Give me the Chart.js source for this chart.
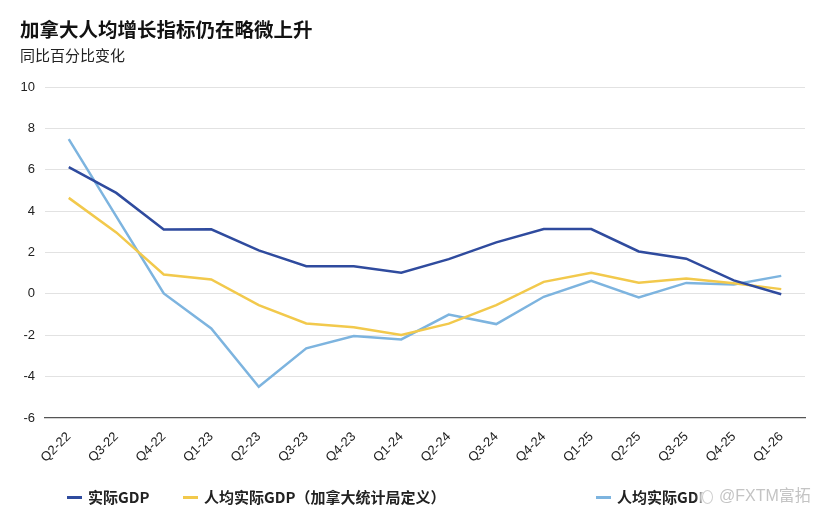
<!DOCTYPE html>
<html><head><meta charset="utf-8">
<script src="https://cdn.jsdelivr.net/npm/chart.js@4"></script>
<style>
html,body{margin:0;padding:0;background:#fff;}
#wrap{position:relative;width:832px;height:528px;overflow:hidden;font-family:"Noto Sans CJK SC","Liberation Sans",Arial,sans-serif;}
#c{position:absolute;left:0;top:0;}
.t{position:absolute;left:20px;top:16px;font-size:19.5px;font-weight:bold;color:#111;line-height:26px;}
.st{position:absolute;left:20px;top:44px;font-size:15px;color:#222;line-height:22px;}
.lg{position:absolute;top:486px;font-size:15px;font-weight:bold;color:#222;white-space:nowrap;line-height:22px;}
.lg i{display:inline-block;width:15px;height:3px;vertical-align:middle;margin-right:6px;position:relative;top:-1px;}
.wm{position:absolute;left:702px;top:485px;font-size:16px;line-height:22px;color:#c4c4c4;font-family:"Liberation Sans",Arial,"Noto Sans CJK SC",sans-serif;text-shadow:0 0 2px #fff,0 0 3px #fff,0 0 4px #fff,0 0 5px #fff;white-space:nowrap;}
.wm b{display:inline-block;width:9px;height:12px;border:1.5px solid #d0d0d0;border-radius:50%;margin-right:6px;vertical-align:middle;background:#fff;box-shadow:0 0 4px 3px #fff;}
</style></head>
<body><div id="wrap">
<canvas id="c" width="832" height="528"></canvas>
<div class="t">加拿大人均增长指标仍在略微上升</div>
<div class="st">同比百分比变化</div>
<div class="lg" style="left:67px"><i style="background:#2f4b9e"></i>实际GDP</div>
<div class="lg" style="left:183px"><i style="background:#f2c94c"></i>人均实际GDP（加拿大统计局定义）</div>
<div class="lg" style="left:596px"><i style="background:#7db4df"></i>人均实际GDP</div>
<div class="wm"><b></b>@FXTM富拓</div>
</div>
<script>
const categories = ["Q2-22","Q3-22","Q4-22","Q1-23","Q2-23","Q3-23","Q4-23","Q1-24","Q2-24","Q3-24","Q4-24","Q1-25","Q2-25","Q3-25","Q4-25","Q1-26"];
const realGDP = [6.13,4.88,3.11,3.12,2.1,1.34,1.34,1.02,1.68,2.49,3.13,3.13,2.05,1.7,0.65,-0.02];
const perCapitaStatCan = [4.64,2.97,0.94,0.70,-0.54,-1.43,-1.61,-1.99,-1.44,-0.54,0.58,1.02,0.54,0.74,0.51,0.23];
const perCapitaGDP = [7.48,3.75,0.02,-1.67,-4.49,-2.63,-2.04,-2.2,-1.0,-1.46,-0.14,0.63,-0.17,0.53,0.45,0.87];
const yTicks = [-6,-4,-2,0,2,4,6,8,10];

new Chart(document.getElementById('c'), {
  type: 'line',
  data: {
    labels: categories,
    datasets: [
      {label:'实际GDP', data: realGDP, borderColor:'#2f4b9e', borderWidth:2.5, pointRadius:0, tension:0},
      {label:'人均实际GDP（加拿大统计局定义）', data: perCapitaStatCan, borderColor:'#f2c94c', borderWidth:2.5, pointRadius:0, tension:0},
      {label:'人均实际GDP', data: perCapitaGDP, borderColor:'#7db4df', borderWidth:2.5, pointRadius:0, tension:0}
    ]
  },
  options: {
    responsive:false, animation:false,
    layout:{padding:{left:0,right:27,top:87,bottom:0}},
    plugins:{legend:{display:false}, title:{display:false}, tooltip:{enabled:false}},
    scales:{
      x:{
        offset:true,
        grid:{display:false},
        border:{display:true,color:'#555',width:1.3},
        ticks:{color:'#222',font:{family:'"Liberation Sans", Arial, sans-serif',size:13},maxRotation:45,minRotation:45,autoSkip:false,padding:3},
        afterFit:(s)=>{s.height=110;}
      },
      y:{
        min:-6,max:10,
        afterBuildTicks:(s)=>{s.ticks=yTicks.map(v=>({value:v}));},
        grid:{color:(ctx)=>ctx.tick && ctx.tick.value===-6?'rgba(0,0,0,0)':'#e2e2e2',lineWidth:1,drawTicks:false},
        border:{display:false},
        ticks:{color:'#222',font:{family:'"Liberation Sans", Arial, sans-serif',size:13},padding:10},
        afterFit:(s)=>{s.width=45;}
      }
    }
  }
});
</script>
</body></html>
